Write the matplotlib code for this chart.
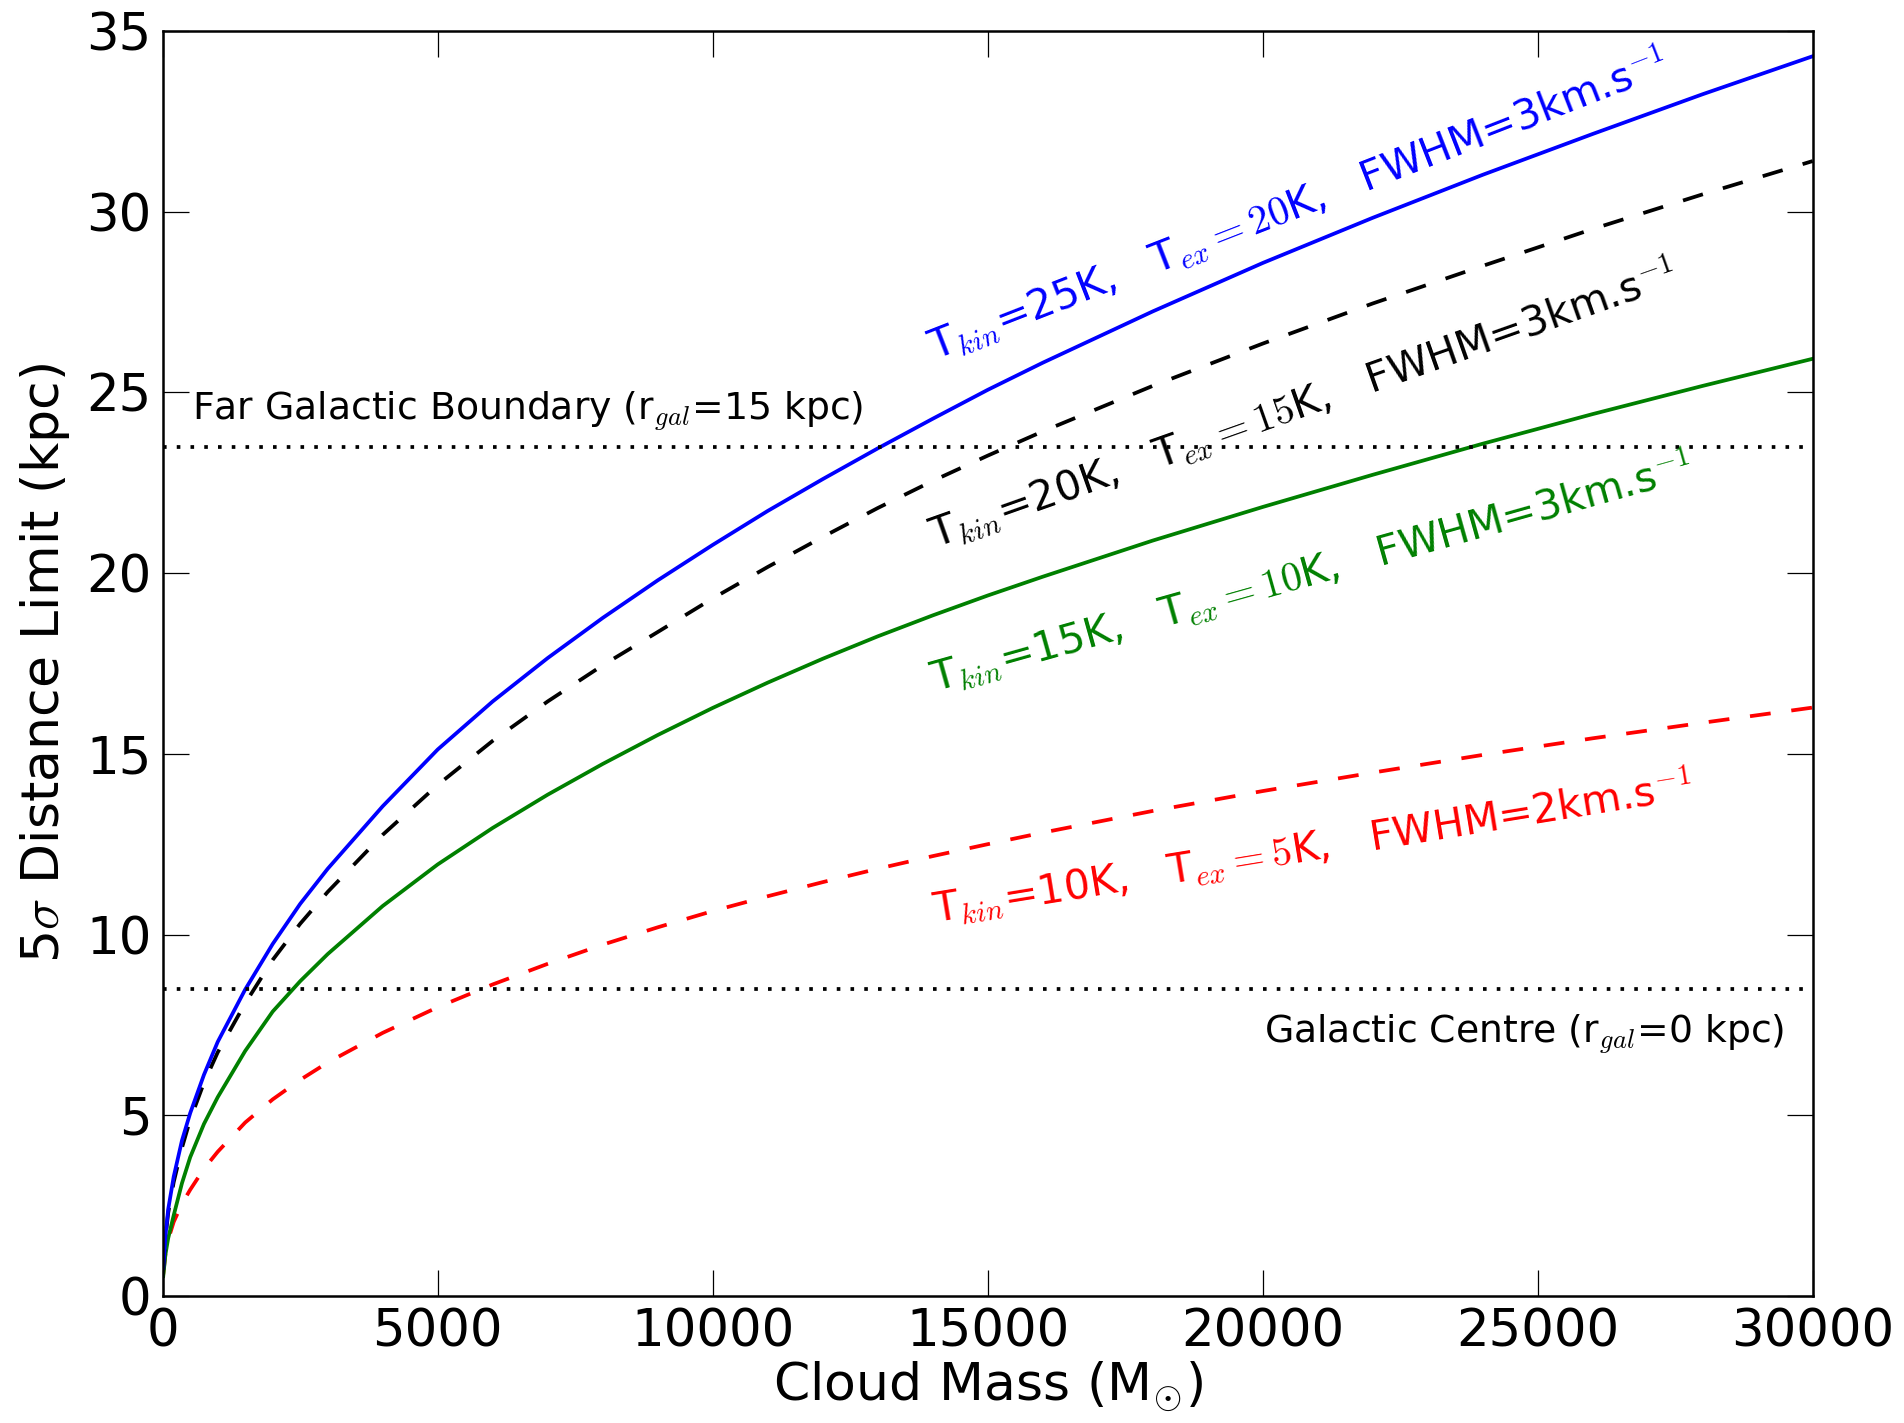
import numpy as np
import matplotlib
matplotlib.use("Agg")
import matplotlib.pyplot as plt

plt.rcParams['mathtext.fontset'] = 'cm'
plt.rcParams['font.family'] = 'DejaVu Sans'
plt.rcParams['lines.scale_dashes'] = False

# cloud mass grid (solar masses)
mass = [10, 50, 100, 200, 350, 500, 750, 1000, 1500, 2000, 2500, 3000, 4000, 5000,
        6000, 7000, 8000, 9000, 10000, 11000, 12000, 13000, 14000, 15000, 16000,
        18000, 20000, 22000, 24000, 26000, 28000, 30000]

# 5 sigma distance limits (kpc) for each excitation model
d_tkin25 = [0.77, 1.67, 2.4, 3.3, 4.3, 5.06, 6.12, 7.03, 8.48, 9.74, 10.85, 11.82,
            13.55, 15.12, 16.45, 17.65, 18.76, 19.8, 20.78, 21.72, 22.6, 23.45,
            24.27, 25.07, 25.82, 27.24, 28.58, 29.83, 31.02, 32.15, 33.25, 34.3]
d_tkin20 = [0.72, 1.6, 2.3, 3.15, 4.1, 4.88, 5.9, 6.74, 8.1, 9.3, 10.3, 11.18,
            12.76, 14.14, 15.36, 16.45, 17.45, 18.37, 19.3, 20.17, 21.0, 21.8,
            22.55, 23.25, 23.92, 25.18, 26.35, 27.46, 28.5, 29.52, 30.48, 31.4]
d_tkin15 = [0.55, 1.15, 1.6, 2.23, 3.12, 3.84, 4.76, 5.5, 6.78, 7.87, 8.71, 9.46,
            10.79, 11.94, 12.95, 13.87, 14.72, 15.52, 16.27, 16.97, 17.63, 18.25,
            18.83, 19.38, 19.9, 20.9, 21.83, 22.72, 23.58, 24.4, 25.18, 25.93]
d_tkin10 = [0.6, 1.17, 1.56, 2.05, 2.55, 2.94, 3.52, 3.99, 4.8, 5.44, 5.98, 6.46,
            7.28, 7.99, 8.62, 9.19, 9.72, 10.2, 10.65, 11.06, 11.45, 11.82, 12.17,
            12.5, 12.82, 13.42, 13.97, 14.48, 14.97, 15.43, 15.86, 16.28]

r_far = 23.5      # heliocentric distance of far galactic edge (r_gal = 15 kpc)
r_centre = 8.5    # heliocentric distance of galactic centre

labels = [r'T$_{kin}$=25K,   T$_{ex}=20$K,   FWHM=3km.s$^{-1}$',
          r'T$_{kin}$=20K,   T$_{ex}=15$K,   FWHM=3km.s$^{-1}$',
          r'T$_{kin}$=15K,   T$_{ex}=10$K,   FWHM=3km.s$^{-1}$',
          r'T$_{kin}$=10K,   T$_{ex}=5$K,   FWHM=2km.s$^{-1}$']
label_y = [25.88, 20.69, 16.70, 10.32]
label_rot = [21.3, 19.5, 15.7, 9.3]
colors = ['blue', 'black', 'green', 'red']

fig = plt.figure(figsize=(19.04, 14.23), dpi=100)
ax = fig.add_axes([0.08545, 0.08925, 0.8666, 0.8890])

lw = 2.7
dash = (15.0, 15.0)
ax.plot(mass, d_tkin10, color='red', lw=lw, dashes=dash)
ax.plot(mass, d_tkin15, color='green', lw=lw)
ax.plot(mass, d_tkin20, color='black', lw=lw, dashes=dash)
ax.plot(mass, d_tkin25, color='blue', lw=lw)

ax.axhline(r_far, color='black', lw=2.7, dashes=(2.6, 7.3))
ax.axhline(r_centre, color='black', lw=2.7, dashes=(2.6, 7.3))

ax.text(530, 24.25, r'Far Galactic Boundary (r$_{gal}$=15 kpc)', fontsize=27.2,
        ha='left', va='baseline')
ax.text(29485, 7.0, r'Galactic Centre (r$_{gal}$=0 kpc)', fontsize=27.2,
        ha='right', va='baseline')

for txt, y, rot, c in zip(labels, label_y, label_rot, colors):
    ax.text(14050, y, txt, color=c, fontsize=29.5, rotation=rot,
            rotation_mode='anchor', ha='left', va='baseline')

ax.set_xlim(0, 30000)
ax.set_ylim(0, 35)
ax.set_xticks(np.arange(0, 30001, 5000))
ax.set_yticks(np.arange(0, 36, 5))
ax.tick_params(direction='in', length=19, width=0.9, labelsize=37, pad=8,
               top=True, right=True)
for sp in ax.spines.values():
    sp.set_linewidth(1.8)

ax.set_xlabel(r'Cloud Mass (M$_{\odot}$)', fontsize=37.5, labelpad=2)
ax.set_ylabel(r'5$\sigma$ Distance Limit (kpc)', fontsize=37.5, labelpad=10)

fig.savefig('out.png', dpi=100)
